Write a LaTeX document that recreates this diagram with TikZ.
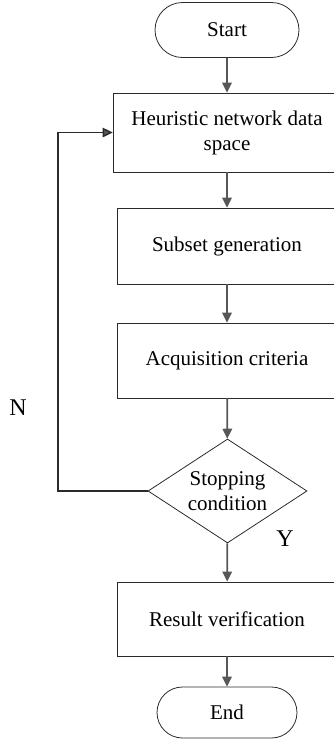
\documentclass[tikz,border=0pt]{standalone}
\usepackage{fontspec}
\setmainfont{Liberation Serif}
\usepackage{tikz}
\usetikzlibrary{shapes.geometric,shapes.misc,arrows.meta}
\definecolor{edge}{HTML}{575757}
\definecolor{frame}{HTML}{2B2B2B}
\tikzset{
  term/.style={rounded rectangle, draw=frame, line width=0.8pt, inner sep=0pt,
    font=\fontsize{21}{25}\selectfont},
  proc/.style={rectangle, draw=frame, line width=0.8pt, inner sep=0pt, align=center,
    font=\fontsize{21}{25}\selectfont},
  cond/.style={diamond, draw=frame, line width=0.8pt, inner sep=0pt, aspect=1.55,
    align=center, font=\fontsize{21}{25}\selectfont},
  flow/.style={draw=edge, line width=1.8pt, -{Triangle[length=10pt,width=9.5pt]}},
  back/.style={draw=frame, line width=1.4pt, -{Triangle[length=10pt,width=9.5pt,fill=edge]}},
  tag/.style={font=\fontsize{24}{24}\selectfont},
}

\begin{document}
\begin{tikzpicture}[x=1pt, y=-1pt]
  \useasboundingbox (0,0) rectangle (333,742);

  \node[term, minimum width=144pt, minimum height=55pt] (start) at (227,30) {Start};
  \node[proc, minimum width=228pt, minimum height=79pt] (space) at (227,132.5)
    {Heuristic network data\\space};
  \node[proc, minimum width=220pt, minimum height=76pt] (subset) at (227,246) {Subset generation};
  \node[proc, minimum width=220pt, minimum height=75pt] (crit) at (227,360.5) {Acquisition criteria};
  \node[cond, minimum width=159pt, minimum height=104pt] (stop) at (227.5,491)
    {Stopping\\condition};
  \node[proc, minimum width=220pt, minimum height=74pt] (verify) at (227,619) {Result verification};
  \node[term, minimum width=140pt, minimum height=51pt] (end) at (227,712.5) {End};

  \coordinate (loop) at (58,132.5); % return corner

  \draw[flow] (start) -- (space);
  \draw[flow] (space) -- (subset);
  \draw[flow] (subset) -- (crit);
  \draw[flow] (crit) -- (stop);
  \draw[flow] (stop) -- (verify);
  \draw[flow] (verify) -- (end);
  \draw[back] (stop.west) -| (loop) -- (space.west);

  \node[tag] (no) at (18,408) {N};
  \node[tag] (yes) at (285,539) {Y};
\end{tikzpicture}
\end{document}
